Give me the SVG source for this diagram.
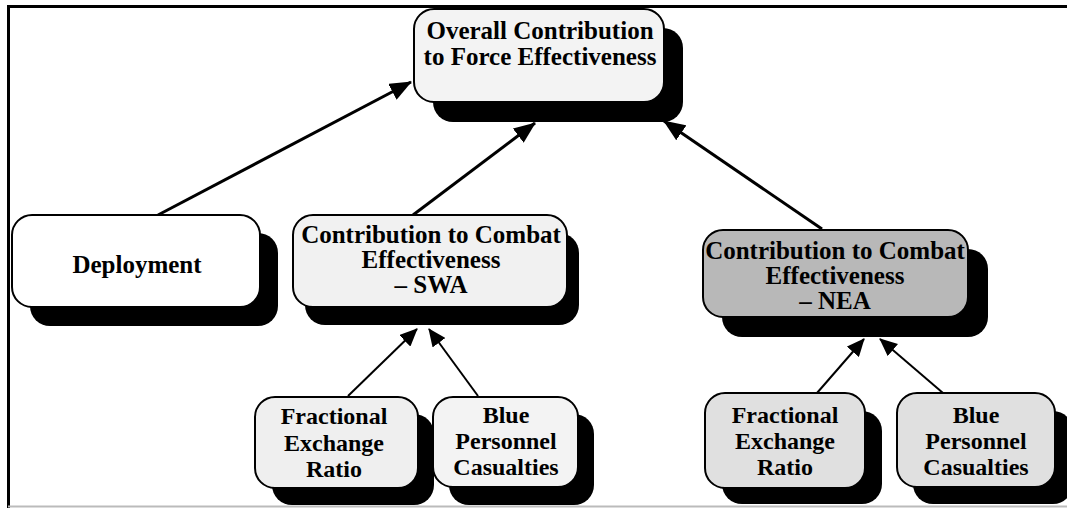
<svg xmlns="http://www.w3.org/2000/svg" width="1067" height="508" viewBox="0 0 1067 508">
<style>
.box{stroke:#000;stroke-width:2}
.sh{fill:#000}
.t{font-family:"Liberation Serif","Times New Roman",serif;font-weight:bold;font-size:25px;fill:#000;text-anchor:middle}
.s{font-size:24px}
.ln{stroke:#000;fill:none}
</style>
<defs>
<marker id="ah" markerUnits="userSpaceOnUse" markerWidth="22" markerHeight="18" refX="21" refY="9" orient="auto">
<path d="M0,0 L22,9 L0,18 z" fill="#000"/>
</marker>
<marker id="ahs" markerUnits="userSpaceOnUse" markerWidth="18" markerHeight="16" refX="17" refY="8" orient="auto">
<path d="M0,0 L18,8 L0,16 z" fill="#000"/>
</marker>
</defs>
<rect width="1067" height="508" fill="#fff"/>
<g id="frame">
<line x1="8.5" y1="5" x2="8.5" y2="508" stroke="#000" stroke-width="3"/>
<line x1="7" y1="6.5" x2="1067" y2="6.5" stroke="#000" stroke-width="3"/>
<line x1="8" y1="506.5" x2="1067" y2="506.5" stroke="#bbb" stroke-width="2"/>
</g>
<g id="connectors">
<line class="ln" x1="158" y1="215" x2="411" y2="82" stroke-width="3" marker-end="url(#ah)"/>
<line class="ln" x1="413" y1="215" x2="535" y2="123" stroke-width="3" marker-end="url(#ah)"/>
<line class="ln" x1="822" y1="229" x2="664" y2="121" stroke-width="3" marker-end="url(#ah)"/>
<line class="ln" x1="348" y1="396" x2="417" y2="329" stroke-width="2" marker-end="url(#ahs)"/>
<line class="ln" x1="478" y1="396" x2="429" y2="329" stroke-width="2" marker-end="url(#ahs)"/>
<line class="ln" x1="817" y1="393" x2="864" y2="339" stroke-width="2" marker-end="url(#ahs)"/>
<line class="ln" x1="943" y1="393" x2="880" y2="339" stroke-width="2" marker-end="url(#ahs)"/>
</g>
<g id="top">
<rect class="sh" x="433" y="28" width="250" height="94" rx="20"/>
<rect class="box" x="414" y="9" width="250" height="93" rx="20" fill="#f3f3f3"/>
<text class="t" x="540" y="39">Overall Contribution</text>
<text class="t" x="540" y="65">to Force Effectiveness</text>
</g>
<g id="deployment">
<rect class="sh" x="30" y="233" width="248" height="93" rx="20"/>
<rect class="box" x="12" y="215" width="248" height="92" rx="20" fill="#fff"/>
<text class="t" x="137" y="273">Deployment</text>
</g>
<g id="swa">
<rect class="sh" x="305" y="233" width="274" height="92" rx="20"/>
<rect class="box" x="293" y="215" width="274" height="92" rx="20" fill="#f1f1f1"/>
<text class="t" x="431" y="243">Contribution to Combat</text>
<text class="t" x="431" y="268">Effectiveness</text>
<text class="t" x="431" y="293">– SWA</text>
</g>
<g id="nea">
<rect class="sh" x="722" y="249" width="266" height="88" rx="20"/>
<rect class="box" x="703" y="230" width="265" height="87" rx="20" fill="#b8b8b8"/>
<text class="t" x="835" y="259">Contribution to Combat</text>
<text class="t" x="835" y="284">Effectiveness</text>
<text class="t" x="835" y="309">– NEA</text>
</g>
<g id="swa-fer">
<rect class="sh" x="272" y="414" width="162" height="91" rx="20"/>
<rect class="box" x="255" y="397" width="163" height="91" rx="20" fill="#efefef"/>
<text class="t s" x="334" y="424">Fractional</text>
<text class="t s" x="334" y="451">Exchange</text>
<text class="t s" x="334" y="477">Ratio</text>
</g>
<g id="swa-bpc">
<rect class="sh" x="449" y="414" width="145" height="91" rx="20"/>
<rect class="box" x="433" y="397" width="145" height="90" rx="20" fill="#f3f3f3"/>
<text class="t s" x="506" y="423">Blue</text>
<text class="t s" x="506" y="449">Personnel</text>
<text class="t s" x="506" y="475">Casualties</text>
</g>
<g id="nea-fer">
<rect class="sh" x="722" y="411" width="160" height="93" rx="20"/>
<rect class="box" x="705" y="393" width="160" height="95" rx="20" fill="#e0e0e0"/>
<text class="t s" x="785" y="423">Fractional</text>
<text class="t s" x="785" y="449">Exchange</text>
<text class="t s" x="785" y="475">Ratio</text>
</g>
<g id="nea-bpc">
<rect class="sh" x="913" y="411" width="160" height="93" rx="20"/>
<rect class="box" x="897" y="393" width="158" height="94" rx="20" fill="#e0e0e0"/>
<text class="t s" x="976" y="423">Blue</text>
<text class="t s" x="976" y="449">Personnel</text>
<text class="t s" x="976" y="475">Casualties</text>
</g>
</svg>
